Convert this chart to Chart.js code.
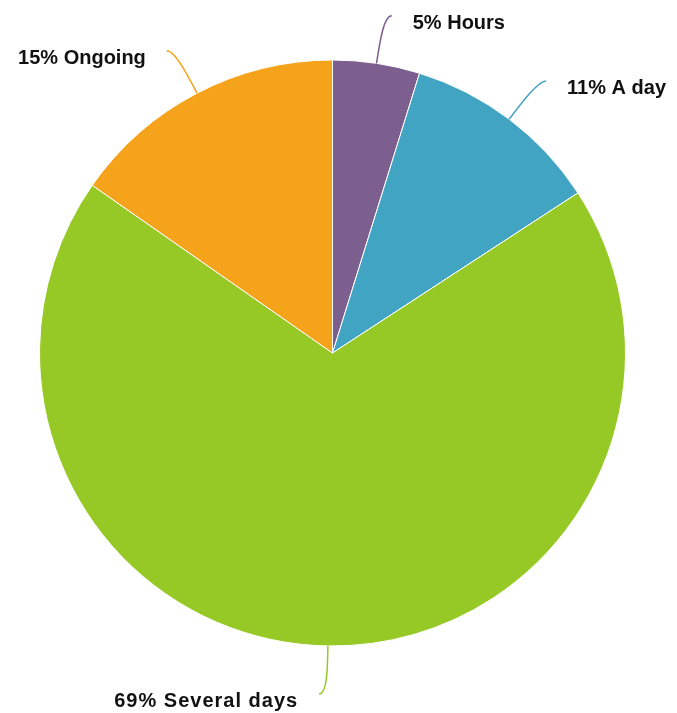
<!DOCTYPE html>
<html>
<head>
<meta charset="utf-8">
<script src="https://cdn.jsdelivr.net/npm/chart.js@4"></script>
<style>
  body { margin: 0; background: #fff; }
  #wrap { width: 677px; height: 713px; }
</style>
</head>
<body>
<div id="wrap"><canvas id="pieChart"></canvas></div>
<script>
const categories = ["Hours", "A day", "Several days", "Ongoing"];
const shares = [4.8, 11.0, 68.9, 15.3];
const colors = ["#7c5f8e", "#41a4c3", "#97c926", "#f5a31b"];

// curved leader lines + "NN% Label" text next to each slice
const leaderLabels = {
  id: "leaderLabels",
  afterDraw(chart) {
    const ctx = chart.ctx;
    const arcs = chart.getDatasetMeta(0).data;
    ctx.save();
    arcs.forEach(function (arc, i) {
      const mid = (arc.startAngle + arc.endAngle) / 2;
      const r = arc.outerRadius;
      const cos = Math.cos(mid), sin = Math.sin(mid);
      const side = cos >= 0 ? 1 : -1;
      const p0 = { x: arc.x + r * cos, y: arc.y + r * sin };
      const c1 = { x: arc.x + (r + 22) * cos, y: arc.y + (r + 22) * sin };
      const c2 = { x: arc.x + (r + 48) * cos, y: arc.y + (r + 48) * sin };
      const end = { x: c2.x + 8 * side, y: c2.y };

      ctx.strokeStyle = colors[i];
      ctx.lineWidth = 1.5;
      ctx.beginPath();
      ctx.moveTo(p0.x, p0.y);
      ctx.bezierCurveTo(c1.x, c1.y, c2.x, c2.y, end.x, end.y);
      ctx.stroke();

      ctx.fillStyle = "#111";
      ctx.font = "bold 20px 'Liberation Sans', Arial, sans-serif";
      ctx.letterSpacing = categories[i] === "Several days" ? "1px" : "0px";
      ctx.textBaseline = "alphabetic";
      ctx.textAlign = side > 0 ? "left" : "right";
      const text = Math.round(shares[i]) + "% " + categories[i];
      ctx.fillText(text, end.x + 21 * side, end.y + 13.5);
    });
    ctx.restore();
  }
};

const ctx = document.getElementById("pieChart").getContext("2d");
const myChart = new Chart(ctx, {
  type: "pie",
  data: {
    labels: categories,
    datasets: [
      {
        data: shares,
        backgroundColor: colors,
        borderColor: "#ffffff",
        borderWidth: 1,
        hoverOffset: 0,
      },
    ],
  },
  options: {
    responsive: true,
    maintainAspectRatio: false,
    animation: false,
    layout: {
      padding: { left: 39, right: 51, top: 59, bottom: 66 },
    },
    plugins: {
      legend: { display: false },
      tooltip: { enabled: false },
    },
  },
  plugins: [leaderLabels],
});
</script>
</body>
</html>
